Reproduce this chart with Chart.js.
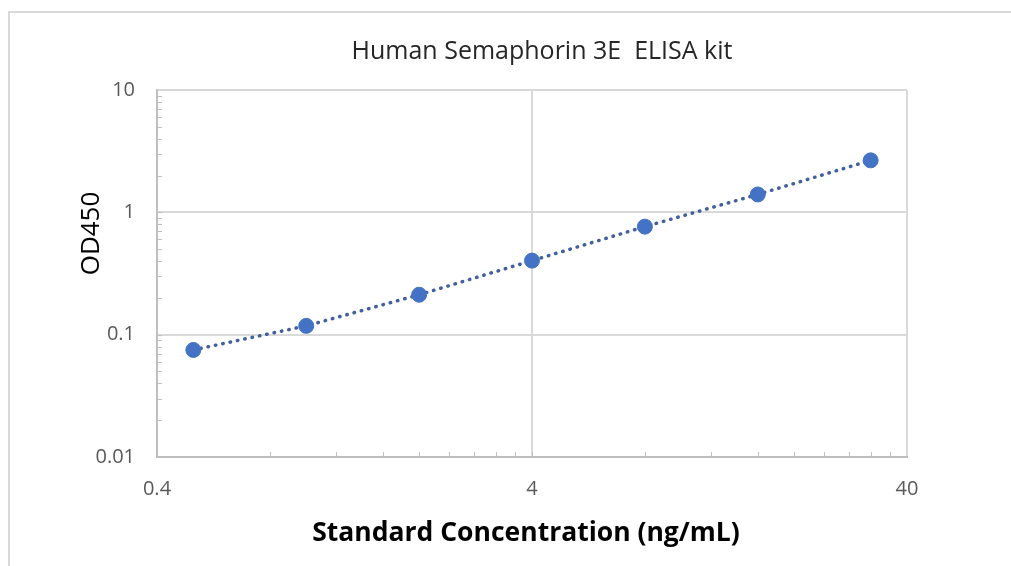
<!DOCTYPE html>
<html>
<head>
<meta charset="utf-8">
<script src="https://cdn.jsdelivr.net/npm/chart.js@4"></script>
<style>
html, body { margin: 0; padding: 0; background: #fff; }
#frame { position: absolute; left: 8px; top: 11px; width: 1100px; height: 600px;
  border-left: 2px solid #d9d9d9; border-top: 2px solid #d9d9d9; }
#wrap { position: absolute; left: 0; top: 0; width: 1011px; height: 566px; }
</style>
</head>
<body>
<div id="frame"></div>
<div id="wrap"><canvas id="myChart" width="1011" height="566"></canvas></div>
<script>
// standard curve
var conc = [0.5, 1, 2, 4, 8, 16, 32];
var od = [0.075, 0.118, 0.212, 0.403, 0.764, 1.40, 2.66];
var xTicks = [0.4, 4, 40];
var yTicks = [0.01, 0.1, 1, 10];

var chartTitle = "Human Semaphorin 3E  ELISA kit";
var xTitle = "Standard Concentration (ng/mL)";
var yTitle = "OD450";

var points = conc.map(function (c, i) { return { x: c, y: od[i] }; });

var font = "'Open Sans', sans-serif";

// small inward ticks between the decades, like the original
var minorTicks = {
    id: 'minorTicks',
    beforeDatasetsDraw: function (chart) {
        var ctx = chart.ctx;
        var x = chart.scales.x, y = chart.scales.y;
        var area = chart.chartArea;
        ctx.save();
        ctx.strokeStyle = '#bfbfbf';
        ctx.lineWidth = 1;
        ctx.beginPath();
        [0.4, 4].forEach(function (base) {
            for (var k = 1; k <= 9; k++) {
                var px = Math.round(x.getPixelForValue(base * k)) + 0.5;
                ctx.moveTo(px, area.bottom);
                ctx.lineTo(px, area.bottom - 5);
            }
        });
        [0.01, 0.1, 1].forEach(function (base) {
            for (var k = 1; k <= 9; k++) {
                var py = Math.round(y.getPixelForValue(base * k)) + 0.5;
                ctx.moveTo(area.left, py);
                ctx.lineTo(area.left + 5, py);
            }
        });
        ctx.stroke();
        ctx.restore();
    }
};

// titles sit a bit off-centre in the original, so place them by hand
var titles = {
    id: 'titles',
    afterDraw: function (chart) {
        var ctx = chart.ctx;
        var area = chart.chartArea;
        var cx = (area.left + area.right) / 2;
        ctx.save();
        ctx.textAlign = 'center';
        ctx.textBaseline = 'middle';

        ctx.fillStyle = '#262626';
        ctx.font = "25px " + font;
        ctx.fillText(chartTitle, cx + 10, area.top - 38);

        ctx.fillStyle = '#000';
        ctx.font = "bold 26.5px " + font;
        ctx.fillText(xTitle, cx - 6, area.bottom + 76);

        ctx.translate(area.left - 65, (area.top + area.bottom) / 2 - 40);
        ctx.rotate(-Math.PI / 2);
        ctx.font = "26px " + font;
        ctx.fillText(yTitle, 0, 0);
        ctx.restore();
    }
};

const chart = new Chart("myChart", {
    type: "scatter",
    data: {
        datasets: [
            {
            label: "trend",
            data: points,
            showLine: true,
            borderColor: "#41609c",
            borderWidth: 3.5,
            borderDash: [0.5, 7],
            borderCapStyle: "round",
            pointRadius: 0,
            order: 2
            },
            {
            label: "OD450",
            data: points,
            backgroundColor: "#4472c4",
            borderColor: "#4472c4",
            pointRadius: 7.5,
            order: 1
            }
        ]
    },
    options: {
        responsive: false,
        animation: false,
        layout: { padding: { left: 76, right: 104, top: 90, bottom: 0 } },
        plugins: {
            legend: { display: false },
            tooltip: { enabled: false },
            title: { display: false }
        },
        scales: {
            x: {
                type: "logarithmic",
                min: 0.4,
                max: 40,
                afterBuildTicks: function (s) { s.ticks = xTicks.map(function (v) { return { value: v }; }); },
                afterFit: function (s) { s.height = 109; },
                ticks: {
                    color: "#595959",
                    font: { family: font, size: 20 },
                    padding: 20,
                    maxRotation: 0,
                    callback: function (v) { return String(v); }
                },
                grid: { color: "#d9d9d9", lineWidth: 2, drawTicks: false },
                border: { color: "#bfbfbf", width: 2 }
            },
            y: {
                type: "logarithmic",
                min: 0.01,
                max: 10,
                afterBuildTicks: function (s) { s.ticks = yTicks.map(function (v) { return { value: v }; }); },
                afterFit: function (s) { s.width = 81; },
                ticks: {
                    color: "#595959",
                    font: { family: font, size: 20 },
                    padding: 22,
                    callback: function (v) { return String(v); }
                },
                grid: { color: "#d9d9d9", lineWidth: 2, drawTicks: false },
                border: { color: "#bfbfbf", width: 2 }
            }
        }
    },
    plugins: [minorTicks, titles]
});
</script>
</body>
</html>
